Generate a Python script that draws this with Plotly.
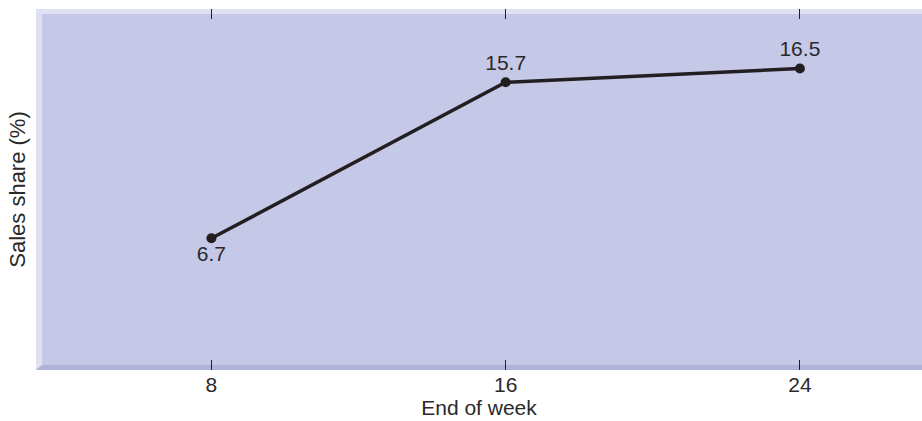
import plotly.graph_objects as go

# Sales share at the end of selected weeks
weeks = [8, 16, 24]
share = [6.7, 15.7, 16.5]
share_labels = ["6.7", "15.7", "16.5"]
label_positions = ["bottom center", "top center", "top center"]
x_ticks = [8, 16, 24]

FIG_W, FIG_H = 922, 421
M_L, M_R, M_T, M_B = 36, 0, 9, 51
PLOT_W = FIG_W - M_L - M_R
PLOT_H = FIG_H - M_T - M_B

FILL = "#c5c8e6"
BEVEL_LIGHT = "#dfe0f1"
BEVEL_DARK = "#afb3da"
INK = "#231f20"
TEXT = "#2a2a2a"
FONT = "Liberation Sans, Arial, sans-serif"


def px_x(p):
    return p / PLOT_W


def px_y(p):
    return p / PLOT_H


fig = go.Figure()
fig.add_trace(go.Scatter(
    x=weeks,
    y=share,
    mode="lines+markers+text",
    text=share_labels,
    textposition=label_positions,
    textfont=dict(family=FONT, size=21, color=TEXT),
    line=dict(color=INK, width=3.5),
    marker=dict(color=INK, size=10),
    cliponaxis=False,
    hoverinfo="skip",
))

# bevelled frame of the plotting panel
shapes = [
    # light top edge
    dict(type="rect", xref="paper", yref="paper", layer="below",
         x0=0, x1=1, y0=1 - px_y(5), y1=1,
         fillcolor=BEVEL_LIGHT, line=dict(width=0)),
    # light left edge
    dict(type="path", xref="paper", yref="paper", layer="below",
         path=(f"M 0 0 L {px_x(6)} {px_y(5)} L {px_x(6)} {1 - px_y(5)} "
               f"L 0 1 Z"),
         fillcolor=BEVEL_LIGHT, line=dict(width=0)),
    # dark bottom edge
    dict(type="path", xref="paper", yref="paper", layer="below",
         path=(f"M 0 0 L 1 0 L 1 {px_y(5)} L {px_x(6)} {px_y(5)} Z"),
         fillcolor=BEVEL_DARK, line=dict(width=0)),
]

fig.update_layout(
    width=FIG_W,
    height=FIG_H,
    margin=dict(l=M_L, r=M_R, t=M_T, b=M_B, pad=0),
    paper_bgcolor="white",
    plot_bgcolor=FILL,
    showlegend=False,
    shapes=shapes,
    font=dict(family=FONT, size=21, color=TEXT),
    xaxis=dict(
        range=[3.23, 27.32],
        tickvals=x_ticks,
        ticktext=[str(v) for v in x_ticks],
        ticks="inside",
        ticklen=10,
        tickwidth=1.2,
        tickcolor=INK,
        mirror="ticks",
        showline=False,
        showgrid=False,
        zeroline=False,
        tickfont=dict(family=FONT, size=21, color=TEXT),
        title=dict(text="End of week", standoff=3,
                   font=dict(family=FONT, size=21, color=TEXT)),
    ),
    yaxis=dict(
        range=[-0.9, 19.93],
        showticklabels=False,
        ticks="",
        showgrid=False,
        zeroline=False,
        showline=False,
        title=dict(text="Sales share (%)", standoff=3,
                   font=dict(family=FONT, size=22, color=TEXT)),
    ),
)

fig.write_html("out.html")
